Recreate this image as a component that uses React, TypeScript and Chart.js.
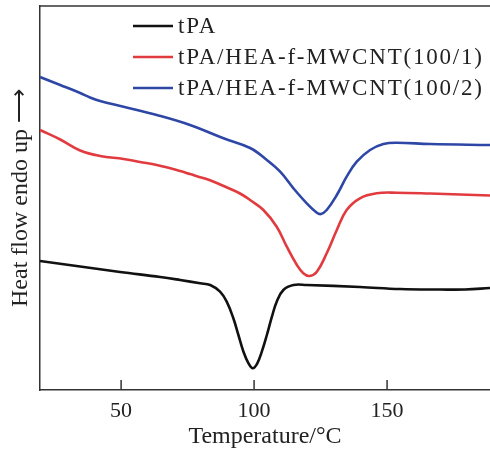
import React, { useEffect, useRef } from "react";
import { Chart, registerables } from "chart.js";

Chart.register(...registerables);

// Temperature (°C) and heat-flow (arbitrary units, endo up)
const T_TPA = [19.5, 34.6, 49.6, 64.7, 72.2, 79.7, 83.5, 87.2, 89.7, 92.2, 94.1, 96, 97.9, 99.5, 101.2, 102.9, 104.8, 106.7, 108.5, 111, 114.8, 119.8, 139.8, 154.9, 169.9, 179.3, 188.7];
const HF_TPA = [129, 123.5, 118, 113, 110, 106.7, 105, 98.3, 88.3, 71.7, 55, 38.3, 26.7, 21.7, 26.7, 38.3, 55, 73.3, 88.3, 100, 105, 105, 103, 101, 100.5, 100.5, 102];

const T_CNT1 = [19.5, 27.1, 34.6, 42.1, 50.9, 57.1, 63.4, 72.2, 75.9, 80.8, 84.6, 89.8, 94.7, 98.5, 103.5, 108.5, 112.3, 116.1, 118.5, 120.8, 123.6, 127.3, 131.1, 134.8, 139.8, 146.1, 153.6, 166.2, 188.7];
const HF_CNT1 = [260, 250.5, 239.5, 234, 231, 228, 225, 219, 216, 212, 208.5, 202.5, 196.5, 190, 180, 163.3, 143.3, 125, 116.7, 114, 118.3, 136.7, 160, 180, 191.7, 196.7, 197.3, 196.5, 194.5];

const T_CNT2 = [19.5, 27.1, 34.6, 38.3, 42.1, 50.9, 63.4, 75.9, 88.5, 98.5, 104.8, 109.8, 114.8, 119.8, 123.6, 125.1, 127.3, 131.1, 134.8, 138.6, 143.6, 148.6, 153.6, 166.2, 188.7];
const HF_CNT2 = [313, 305, 297, 292.5, 289, 283.3, 275, 265, 251.7, 242, 230, 218.3, 201.7, 186.7, 177.3, 176, 180, 195, 213.3, 228.3, 240, 246, 247.3, 246, 245];

const SERIES_LABELS = ["tPA", "tPA/HEA-f-MWCNT(100/1)", "tPA/HEA-f-MWCNT(100/2)"];
const SERIES_COLORS = ["#111111", "#e23b3f", "#2e47a6"];
const X_TICKS = [50, 100, 150];
const X_MIN = 19.5;
const X_MAX = 188.7;
const Y_MIN = 0;
const Y_MAX = 384;

const FONT = "'Liberation Serif', 'Times New Roman', serif";
const AXIS_COLOR = "#333333";

function pairs(xs: number[], ys: number[]) {
  return xs.map((x, i) => ({ x, y: ys[i] }));
}

const framePlugin = {
  id: "frame",
  afterDatasetsDraw(chart: any) {
    const { ctx, chartArea, scales } = chart;
    const xs = scales.x;
    ctx.save();
    ctx.strokeStyle = AXIS_COLOR;
    ctx.lineWidth = 1.5;
    ctx.beginPath();
    ctx.moveTo(chartArea.left, chartArea.top);
    ctx.lineTo(chartArea.right, chartArea.top);
    ctx.stroke();
    X_TICKS.forEach((t) => {
      const px = xs.getPixelForValue(t);
      ctx.beginPath();
      ctx.moveTo(px, chartArea.bottom);
      ctx.lineTo(px, chartArea.bottom - 10);
      ctx.stroke();
    });
    ctx.restore();
  },
  afterDraw(chart: any) {
    const { ctx } = chart;
    ctx.save();
    const rows = [26, 57, 88];
    chart.data.datasets.forEach((ds: any, i: number) => {
      const y = rows[i];
      ctx.strokeStyle = ds.borderColor;
      ctx.lineWidth = 2.5;
      ctx.beginPath();
      ctx.moveTo(133, y);
      ctx.lineTo(173, y);
      ctx.stroke();
      ctx.fillStyle = "#222222";
      ctx.font = `23px ${FONT}`;
      (ctx as any).letterSpacing = "1.8px";
      ctx.textBaseline = "middle";
      ctx.textAlign = "left";
      ctx.fillText(ds.label, 178, y + 1);
    });
    ctx.restore();
  },
};

export default function App() {
  const canvasRef = useRef<HTMLCanvasElement | null>(null);

  useEffect(() => {
    if (!canvasRef.current) return;
    const chart = new Chart(canvasRef.current, {
      type: "line",
      data: {
        datasets: [
          { label: SERIES_LABELS[0], data: pairs(T_TPA, HF_TPA), borderColor: SERIES_COLORS[0] },
          { label: SERIES_LABELS[1], data: pairs(T_CNT1, HF_CNT1), borderColor: SERIES_COLORS[1] },
          { label: SERIES_LABELS[2], data: pairs(T_CNT2, HF_CNT2), borderColor: SERIES_COLORS[2] },
        ].map((d) => ({
          ...d,
          borderWidth: 2.6,
          pointRadius: 0,
          fill: false,
          tension: 0.4,
          borderJoinStyle: "round" as const,
        })),
      },
      options: {
        animation: false,
        responsive: true,
        maintainAspectRatio: false,
        layout: { padding: { top: 6, right: 0, left: 0, bottom: 0 } },
        plugins: { legend: { display: false }, tooltip: { enabled: false } },
        scales: {
          x: {
            type: "linear",
            min: X_MIN,
            max: X_MAX,
            afterBuildTicks: (scale: any) => {
              scale.ticks = X_TICKS.map((v) => ({ value: v }));
            },
            afterFit: (scale: any) => {
              scale.height = 60;
            },
            grid: { display: false, drawTicks: false },
            border: { display: true, color: AXIS_COLOR, width: 1.5 },
            ticks: {
              padding: 8,
              color: "#222222",
              font: { family: FONT, size: 22 },
              maxRotation: 0,
            },
            title: {
              display: true,
              text: "Temperature/°C",
              color: "#222222",
              font: { family: FONT, size: 24 },
              padding: { top: 0, bottom: -1 },
            },
          },
          y: {
            type: "linear",
            min: Y_MIN,
            max: Y_MAX,
            afterFit: (scale: any) => {
              scale.width = 40;
            },
            grid: { display: false, drawTicks: false },
            border: { display: true, color: AXIS_COLOR, width: 1.5 },
            ticks: { display: false },
            title: {
              display: true,
              text: "Heat flow endo up ⟶",
              color: "#222222",
              font: { family: FONT, size: 24 },
              padding: { top: 6, bottom: 0 },
            },
          },
        },
      },
      plugins: [framePlugin],
    });
    return () => chart.destroy();
  }, []);

  return (
    <div style={{ position: "absolute", left: 0, top: 0, width: 490, height: 450, background: "#ffffff" }}>
      <canvas ref={canvasRef} />
    </div>
  );
}
